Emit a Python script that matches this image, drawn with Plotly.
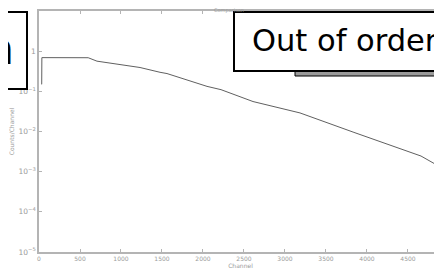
import plotly.graph_objects as go

# Data (log-scale spectrum)
channels = [30, 33, 35, 300, 600, 707, 902, 1232, 1476, 1561, 2049, 2220, 2610, 3183, 3841, 4256, 4659, 4902]
counts = [0.15, 0.15, 0.69, 0.69, 0.687, 0.564, 0.493, 0.392, 0.298, 0.277, 0.133, 0.110, 0.0557, 0.029,
          0.0095, 0.00482, 0.00245, 0.00128]

title_text = "Comparison"
x_title = "Channel"
y_title = "Counts/Channel"
stamp_left = "Unknown"
stamp_right = "Out of order"

# the page body has an 8px margin: figure coords = screen coords - 8
OFF = 8
W, H = 442, 268
ML, MR, MT, MB = 39 - OFF, OFF, 11 - OFF, 16 + OFF
PW, PH = W - ML - MR, H - MT - MB


def px(sx):
    return (sx - OFF - ML) / PW


def py(sy):
    return (H - MB - (sy - OFF)) / PH


fig = go.Figure()
fig.add_trace(go.Scatter(x=channels, y=counts, mode="lines",
                         line=dict(color="#606060", width=1), showlegend=False))

axis_common = dict(showline=True, linecolor="#b4b4b4", linewidth=2, mirror="ticks",
                   ticks="inside", ticklen=3, tickcolor="#b4b4b4", showgrid=False,
                   zeroline=False, tickfont=dict(size=6, color="#9a9a9a"), automargin=False)

fig.update_xaxes(range=[0, 4915], tick0=0, dtick=500,
                 title=dict(text=x_title, font=dict(size=6, color="#9a9a9a"), standoff=0),
                 **axis_common)
fig.update_yaxes(type="log", range=[-5, 1], dtick=1, exponentformat="power",
                 title=dict(text=y_title, font=dict(size=6, color="#9a9a9a"), standoff=6),
                 **axis_common)

# shadow bar under the right stamp
fig.add_shape(type="rect", xref="paper", yref="paper",
              x0=px(295), x1=px(439), y0=py(76), y1=py(70),
              fillcolor="#9a9a9a", line=dict(color="black", width=1))
# stamp boxes
fig.add_shape(type="rect", xref="paper", yref="paper",
              x0=px(-30), x1=px(27), y0=py(89), y1=py(12),
              fillcolor="white", line=dict(color="black", width=2))
fig.add_shape(type="rect", xref="paper", yref="paper",
              x0=px(234), x1=px(480), y0=py(71), y1=py(12),
              fillcolor="white", line=dict(color="black", width=2))

fig.add_annotation(text=stamp_left, xref="paper", yref="paper", x=px(15), y=py(48.5),
                   xanchor="right", yanchor="middle", showarrow=False, borderpad=0,
                   font=dict(family="DejaVu Sans", size=44, color="black"))
fig.add_annotation(text=stamp_right, xref="paper", yref="paper", x=px(251), y=py(40.5),
                   xanchor="left", yanchor="middle", showarrow=False, borderpad=0,
                   font=dict(family="DejaVu Sans", size=30.5, color="black"))

fig.update_layout(width=W, height=H,
                  margin=dict(l=ML, r=MR, t=MT, b=MB, autoexpand=False),
                  paper_bgcolor="white", plot_bgcolor="white",
                  font=dict(family="DejaVu Sans", size=6, color="#9a9a9a"),
                  title=dict(text=title_text, x=0.5, xanchor="center", y=1, yanchor="top",
                             pad=dict(t=0), font=dict(size=5, color="#9a9a9a")))

fig.write_html("out.html")
